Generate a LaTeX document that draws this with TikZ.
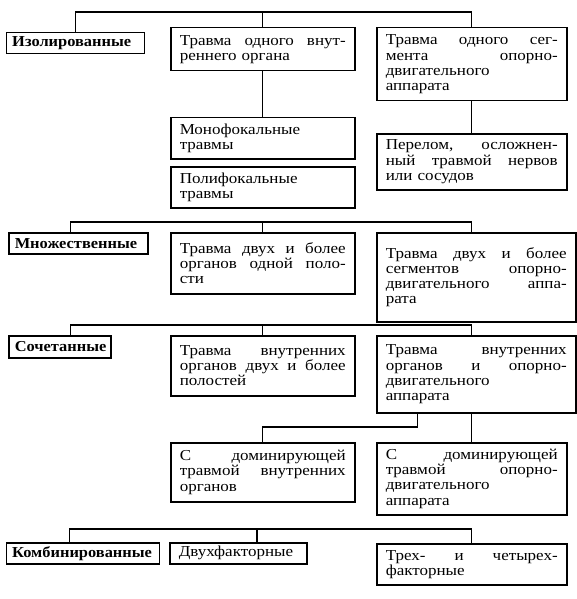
\documentclass[tikz,border=0pt]{standalone}
\usepackage{fontspec}
\setmainfont[FakeStretch=1.12]{Liberation Serif}
\newfontfamily\bfam[FakeStretch=1.08]{Liberation Serif}
\newcommand{\jl}[2][166pt]{\leavevmode\hbox to #1{#2}}
\newcommand{\s}{ \hfil}
\tikzset{
  box/.style={draw, line width=1.5pt, anchor=north west, inner xsep=9pt, inner ysep=3pt,
    align=left, font=\fontsize{15.2}{15.2}\selectfont},
  bbox/.style={box, inner xsep=6pt, font=\fontsize{15.2}{15.2}\selectfont\bfam\bfseries},
  conn/.style={line width=1.2pt}
}
\begin{document}
\begin{tikzpicture}[x=1pt,y=-1pt]
\useasboundingbox (0,0) rectangle (576,599);
% row 1
\node[bbox, text width=126pt, minimum height=21pt] (iso) at (5.5,32) {Изолированные};
\node[box, text width=166pt, minimum height=43pt] (vn1) at (170,27) {\jl{Травма\s одного\s внут-}\\реннего органа};
\node[box, text width=172pt, minimum height=73pt] (seg1) at (376,27) {\jl[172pt]{Травма\s одного\s сег-}\\\jl[172pt]{мента\s опорно-}\\двигательного\\аппарата};
\node[box, text width=166pt, minimum height=41pt] (mono) at (170,117) {Монофокальные\\травмы};
\node[box, text width=166pt, minimum height=41pt] (poly) at (170,166) {Полифокальные\\травмы};
\node[box, text width=172pt, minimum height=56pt] (perel) at (376,133) {\jl[172pt]{Перелом,\s осложнен-}\\\jl[172pt]{ный\s травмой\s нервов}\\или сосудов};
% row 2
\node[bbox, text width=127pt, minimum height=21pt] (mnozh) at (8,232) {Множественные};
\node[box, text width=166pt, minimum height=61pt] (dv1) at (170,232) {\jl{Травма\s двух\s и\s более}\\\jl{органов\s одной\s поло-}\\сти};
\node[box, text width=181pt, minimum height=89pt] (dv2) at (376,232) {\jl[181pt]{Травма\s двух\s и\s более}\\\jl[181pt]{сегментов\s опорно-}\\\jl[181pt]{двигательного\s аппа-}\\рата};
% row 3
\node[bbox, text width=90pt, minimum height=22pt] (soch) at (8,335) {Сочетанные};
\node[box, text width=166pt, minimum height=60pt] (vn2) at (170,335) {\jl{Травма\s внутренних}\\\jl{органов\s двух\s и\s более}\\полостей};
\node[box, text width=181pt, minimum height=77pt] (vnop) at (376,335) {\jl[181pt]{Травма\s внутренних}\\\jl[181pt]{органов\s и\s опорно-}\\двигательного\\аппарата};
\node[box, text width=166pt, minimum height=59pt] (dom1) at (170,442) {\jl{С\s доминирующей}\\\jl{травмой\s внутренних}\\органов};
\node[box, text width=172pt, minimum height=72pt] (dom2) at (376,442) {\jl[172pt]{С\s доминирующей}\\\jl[172pt]{травмой\s опорно-}\\двигательного\\аппарата};
% row 4
\node[bbox, text width=141pt, minimum height=21pt] (komb) at (5.5,542) {Комбинированные};
\node[box, text width=119pt, minimum height=21pt] (dvuh) at (169,542) {Двухфакторные};
\node[box, text width=172pt, minimum height=41pt] (treh) at (376,543) {\jl[172pt]{Трех-\s и\s четырех-}\\факторные};
% connectors
\coordinate (r1) at (0,12);
\draw[conn] (iso.north) |- (seg1.north |- r1) -- (seg1.north);
\draw[conn] (vn1.north) -- (vn1.north |- r1);
\draw[conn] (vn1.south) -- (mono.north);
\draw[conn] (seg1.south) -- (perel.north);
\coordinate (r2l) at (70.5,222);
\coordinate (r2r) at (471.5,222);
\draw[conn] (r2l |- mnozh.north) -- (r2l) -- (r2r) -- (r2r |- dv2.north);
\draw[conn] (dv1.north) -- (dv1.north |- r2l);
\coordinate (r3l) at (70.5,325);
\coordinate (r3r) at (471.5,325);
\draw[conn] (r3l |- soch.north) -- (r3l) -- (r3r) -- (r3r |- vnop.north);
\draw[conn] (vn2.north) -- (vn2.north |- r3l);
\coordinate (k) at (417.5,427);
\draw[conn] (k |- vnop.south) -- (k) -| (dom1.north);
\draw[conn] (dom2.north) -- (dom2.north |- vnop.south);
\coordinate (r4l) at (69.5,529);
\coordinate (r4m) at (257,529);
\coordinate (r4r) at (471.5,529);
\draw[conn] (r4l |- komb.north) -- (r4l) -- (r4r) -- (r4r |- treh.north);
\draw[conn] (r4m) -- (r4m |- dvuh.north);
\end{tikzpicture}
\end{document}
